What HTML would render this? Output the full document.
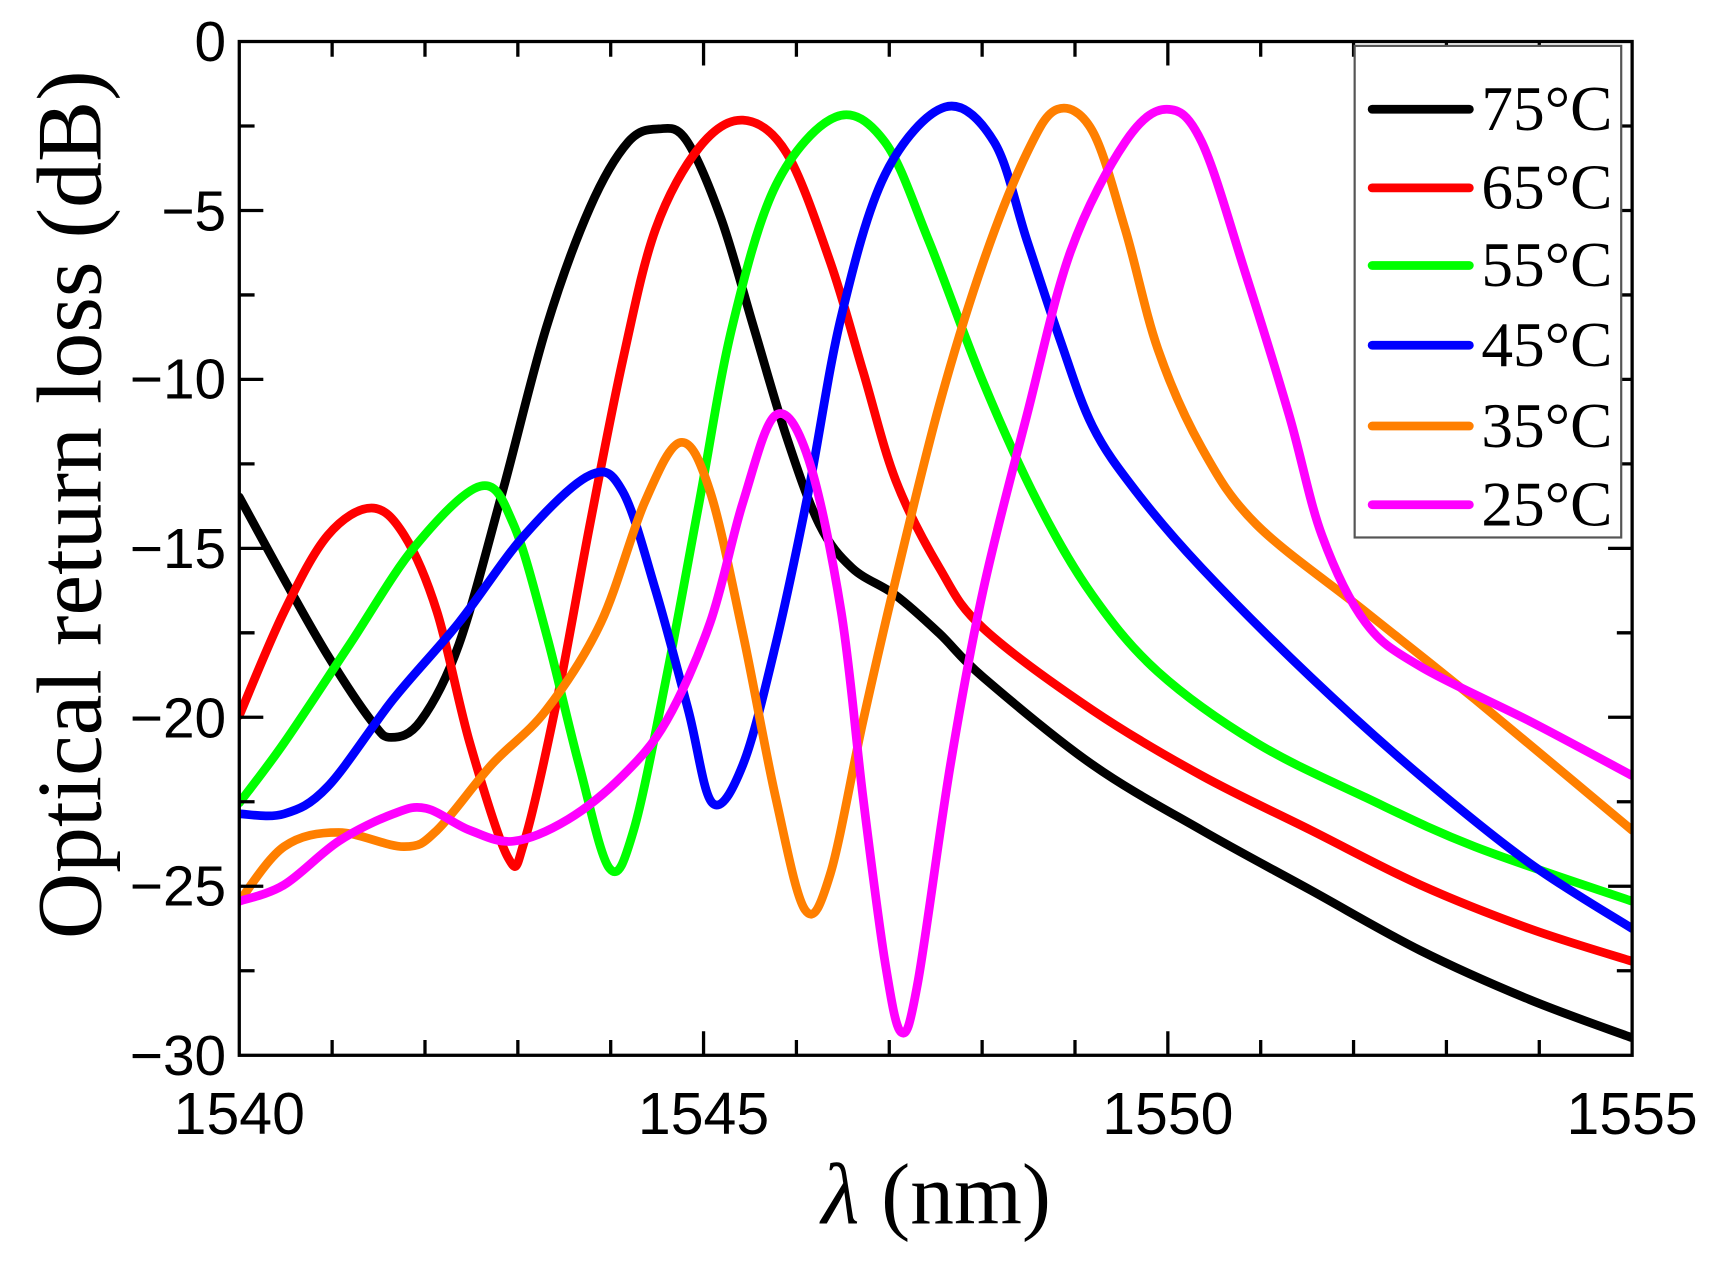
<!DOCTYPE html>
<html><head><meta charset="utf-8"><style>
html,body{margin:0;padding:0;background:#fff;}
svg{display:block;}
</style></head><body>
<svg id="s" width="1713" height="1261" viewBox="0 0 1568 1154.3" xmlns="http://www.w3.org/2000/svg">
<defs><clipPath id="c"><rect x="219" y="38" width="1275" height="928"/></clipPath></defs>
<g id="curves" clip-path="url(#c)" fill="none" stroke-width="8" stroke-linejoin="round" stroke-linecap="round"></g>
<g stroke="#000" stroke-width="3" fill="none">
<rect x="219" y="38" width="1275" height="928"/>
</g>
<g id="ticks" stroke="#000" stroke-width="3"></g>
<g font-family="Liberation Sans, sans-serif" font-size="52" fill="#000" text-anchor="end">
<text x="207" y="56">0</text>
<text x="207" y="211">−5</text>
<text x="207" y="365">−10</text>
<text x="207" y="520">−15</text>
<text x="207" y="675">−20</text>
<text x="207" y="829">−25</text>
<text x="207" y="984">−30</text>
</g>
<g font-family="Liberation Sans, sans-serif" font-size="54" fill="#000" text-anchor="middle">
<text x="219" y="1038">1540</text>
<text x="644" y="1038">1545</text>
<text x="1069" y="1038">1550</text>
<text x="1494" y="1038">1555</text>
</g>
<text x="857" y="1120" font-family="Liberation Serif, serif" font-size="80" text-anchor="middle"><tspan font-style="italic">λ</tspan> (nm)</text>
<text transform="translate(92,462) rotate(-90)" font-family="Liberation Serif, serif" font-size="84" text-anchor="middle">Optical return loss (dB)</text>
<rect x="1240" y="42" width="244" height="450" fill="#fff" stroke="#555" stroke-width="2"/>
<g stroke-width="8" stroke-linecap="round">
<line x1="1256" y1="100" x2="1345" y2="100" stroke="#000"/>
<line x1="1256" y1="172" x2="1345" y2="172" stroke="#f00"/>
<line x1="1256" y1="243" x2="1345" y2="243" stroke="#0f0"/>
<line x1="1256" y1="316" x2="1345" y2="316" stroke="#00f"/>
<line x1="1256" y1="390" x2="1345" y2="390" stroke="#ff7f00"/>
<line x1="1256" y1="462" x2="1345" y2="462" stroke="#f0f"/>
</g>
<g font-family="Liberation Serif, serif" font-size="58" fill="#000">
<text x="1356" y="119">75°C</text>
<text x="1356" y="191">65°C</text>
<text x="1356" y="262">55°C</text>
<text x="1356" y="335">45°C</text>
<text x="1356" y="409">35°C</text>
<text x="1356" y="481">25°C</text>
</g>
</svg>
<script>
var NS="http://www.w3.org/2000/svg";
function path(pts){var d="M"+pts[0][0]+","+pts[0][1];for(var i=0;i<pts.length-1;i++){var p0=pts[i-1]||pts[i],p1=pts[i],p2=pts[i+1],p3=pts[i+2]||p2;var c1=[p1[0]+(p2[0]-p0[0])/6,p1[1]+(p2[1]-p0[1])/6],c2=[p2[0]-(p3[0]-p1[0])/6,p2[1]-(p3[1]-p1[1])/6];d+=" C"+c1[0]+","+c1[1]+" "+c2[0]+","+c2[1]+" "+p2[0]+","+p2[1];}return d;}
var S=[
["#000",[[219,455],[260,530],[300,600],[340,660],[358,675],[385,660],[420,590],[460,450],[500,300],[540,190],[575,130],[603,118],[628,128],[660,200],[690,300],[720,400],[750,480],[780,520],[820,545],[860,580],[900,620],[1000,700],[1100,760],[1200,815],[1300,870],[1400,915],[1494,950]]],
["#f00",[[219,655],[260,560],[300,490],[340,465],[370,490],[400,560],[430,680],[465,785],[480,770],[510,640],[540,480],[570,330],[600,210],[640,135],[680,110],[720,140],[760,240],[790,340],[820,440],[860,520],[900,575],[1000,650],[1100,710],[1200,760],[1300,810],[1400,850],[1494,880]]],
["#0f0",[[219,735],[260,680],[320,590],[380,500],[440,445],[470,480],[500,580],[530,700],[558,795],[580,760],[610,620],[640,460],[670,300],[710,170],[765,107],[810,130],[850,220],[900,350],[950,460],[1000,545],[1060,615],[1150,680],[1250,730],[1350,775],[1494,825]]],
["#00f",[[219,745],[260,745],[300,720],[360,640],[420,570],[480,490],[540,435],[570,450],[600,540],[630,650],[652,735],[680,700],[710,590],[740,450],[770,290],[810,160],[865,98],[910,130],[940,220],[970,310],[1000,390],[1040,450],[1100,520],[1200,620],[1300,710],[1400,790],[1494,850]]],
["#ff7f00",[[219,825],[260,775],[310,762],[370,775],[400,760],[450,700],[500,650],[550,570],[590,460],[623,405],[650,450],[680,580],[710,730],[737,833],[760,800],[790,660],[820,530],[860,370],[900,240],[940,140],[968,100],[1000,120],[1030,210],[1060,320],[1100,410],[1150,480],[1250,560],[1350,640],[1494,760]]],
["#f0f",[[219,825],[260,810],[310,770],[360,745],[390,740],[430,760],[470,770],[520,750],[570,710],[610,660],[650,570],[680,460],[710,380],[740,420],[770,560],[790,730],[810,880],[825,945],[840,900],[870,700],[900,540],[940,380],[980,230],[1030,130],[1068,100],[1100,130],[1140,250],[1180,380],[1210,490],[1250,570],[1300,610],[1400,660],[1494,710]]]
];
var g=document.getElementById("curves");
S.forEach(function(s){var p=document.createElementNS(NS,"path");p.setAttribute("d",path(s[1]));p.setAttribute("stroke",s[0]);g.appendChild(p);});
var t=document.getElementById("ticks"),d="";
for(var i=1;i<15;i++){var x=219+85*i,L=(i%5==0)?22:14;d+="M"+x+",966v-"+L+"M"+x+",38v"+L;}
for(var j=1;j<12;j++){var y=38+30.93*2.5*j,L=(j%2==0)?22:14;d+="M219,"+y+"h"+L+"M1494,"+y+"h-"+L;}
var tp=document.createElementNS(NS,"path");tp.setAttribute("d",d);t.appendChild(tp);
</script>
</body></html>
